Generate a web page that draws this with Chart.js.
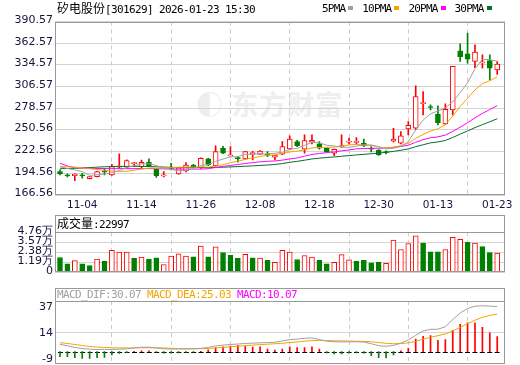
<!DOCTYPE html>
<html><head><meta charset="utf-8">
<script src="https://cdn.jsdelivr.net/npm/chart.js@4.4.1/dist/chart.umd.min.js"></script>
<style>
html,body{margin:0;padding:0;background:#fff;}
body{width:520px;height:365px;position:relative;overflow:hidden;}
canvas{position:absolute;left:0;}
.t{position:absolute;white-space:nowrap;line-height:14px;height:14px;}
.cjk{font-family:"Noto Sans CJK SC",sans-serif;font-size:12px;}
.mono{font-family:"DejaVu Sans Mono",monospace;font-size:11px;letter-spacing:-0.62px;}
.leg{font-family:"DejaVu Sans Mono",monospace;font-size:11px;letter-spacing:-0.8px;}
.sq{display:inline-block;width:5px;height:4px;margin:0 0 2px 3px;vertical-align:middle;}
.wm{position:absolute;left:196px;top:84px;font-family:"Noto Sans CJK SC",sans-serif;font-weight:700;font-size:27px;color:#eeeeee;letter-spacing:1px;}
</style></head><body>
<div class="wm">◐ 东方财富</div>
<canvas id="cMain" width="520" height="215" style="top:0"></canvas>
<canvas id="cVol" width="520" height="66" style="top:215px"></canvas>
<canvas id="cMacd" width="520" height="77" style="top:288px"></canvas>
<div class="t" style="left:57px;top:1px;color:#000"><span class="cjk">矽电股份</span><span class="mono">[301629] 2026-01-23 15:30</span></div>
<div class="t leg" id="legend" style="left:322px;top:2px;color:#000"></div>
<div class="t" style="left:57px;top:216px;color:#000"><span class="cjk">成交量</span><span class="mono">:22997</span></div>
<div class="t mono" id="macdHead" style="left:57px;top:288px"></div>
<script>
const dates = ['10-30','10-31','11-03','11-04','11-05','11-06','11-07','11-10','11-11','11-12','11-13','11-14','11-17','11-18','11-19','11-20','11-21','11-24','11-25','11-26','11-27','11-28','12-01','12-02','12-03','12-04','12-05','12-08','12-09','12-10','12-11','12-12','12-15','12-16','12-17','12-18','12-19','12-22','12-23','12-24','12-25','12-26','12-29','12-30','12-31','01-05','01-06','01-07','01-08','01-09','01-12','01-13','01-14','01-15','01-16','01-19','01-20','01-21','01-22','01-23'];
const dateTicks = ['11-04','11-14','11-26','12-08','12-18','12-30','01-13','01-23'];

const opens  = [196.7,191.8,191.5,191.9,187.6,190.2,197.6,192.4,202.5,202.4,207.0,203.1,208.8,199.8,191.3,202.1,193.7,197.6,205.3,201.85,213.1,204.4,226.9,217.0,214.4,213.1,220.0,219.2,218.7,215.5,219.2,226.0,235.5,225.6,234.7,232.5,226.9,220.5,229.0,234.8,234.6,233.4,226.3,224.7,222.1,236.0,233.4,251.9,252.8,284.6,280.3,270.9,258.3,276.4,352.7,348.8,338.9,337.2,340.2,328.1];
const highs  = [198.9,193.7,194.0,194.6,190.5,197.0,201.1,206.2,219.6,212.0,208.6,211.8,213.1,200.5,196.7,207.5,202.0,208.3,206.0,214.5,214.0,229.9,229.3,229.0,216.1,223.0,222.8,224.0,222.5,218.2,235.5,242.8,237.0,244.1,244.1,235.5,227.5,226.0,244.1,239.9,240.6,238.6,229.0,225.3,223.5,252.8,248.4,261.3,307.5,300.1,282.9,281.6,284.2,332.8,361.8,375.55,360.5,347.5,347.5,338.9];
const lows   = [192.4,189.8,185.07,188.15,187.3,189.9,192.4,191.8,201.0,201.5,203.1,200.2,203.5,189.4,189.8,198.9,193.0,196.5,202.0,201.0,204.5,203.8,220.0,216.3,208.8,212.5,211.8,218.5,216.1,211.8,218.5,225.0,229.0,220.5,232.5,225.6,222.0,217.4,228.0,232.5,232.5,229.0,222.1,217.7,219.5,235.0,232.5,244.1,251.0,270.0,276.4,257.0,257.5,270.0,338.9,336.8,331.1,330.3,315.2,322.1];
const closes = [193.7,191.25,193.7,191.25,190.2,196.7,196.3,203.1,203.7,210.9,207.6,208.8,204.0,191.5,192.0,200.8,201.5,205.3,202.8,214.0,205.3,222.5,220.5,217.4,213.6,222.5,220.6,223.4,217.9,218.0,229.0,238.9,230.3,236.8,237.3,226.9,222.5,225.6,229.9,235.6,235.2,229.9,225.6,218.3,221.4,238.6,242.8,256.4,293.6,285.1,279.5,260.0,277.3,332.76,345.3,342.0,351.0,337.7,330.3,335.5];

const ma5  = [203.1,200.8,198.9,196.7,192.0,192.6,193.6,195.5,198.0,202.1,204.3,206.8,207.0,204.6,200.8,199.4,198.0,198.2,200.5,204.9,205.8,210.0,213.0,215.9,215.9,219.3,218.9,219.5,219.6,220.5,221.8,225.4,226.8,230.6,234.5,234.0,230.8,229.8,228.4,228.1,229.8,231.2,231.2,228.9,226.1,226.8,229.3,235.5,250.6,263.3,271.5,274.9,279.1,286.9,298.9,311.4,329.6,341.7,341.3,339.3];
const ma10 = [203.0,203.0,202.5,201.5,200.5,199.5,198.5,197.5,197.0,197.1,198.5,200.2,201.3,201.3,201.5,201.9,202.4,202.6,202.5,202.8,202.6,204.0,205.6,208.2,210.4,212.5,214.5,216.3,217.8,218.2,220.5,222.2,223.2,225.1,227.5,227.9,228.1,228.3,229.5,231.3,231.9,231.0,230.5,228.7,227.1,228.3,230.3,233.4,239.7,244.7,249.1,252.1,257.3,268.7,281.1,291.4,302.3,310.4,314.1,319.1];
const ma20 = [207.5,204.0,202.0,201.3,201.0,200.8,200.7,200.6,200.6,200.6,200.6,200.7,200.7,200.5,200.3,200.1,200.0,200.0,200.0,200.0,200.5,202.1,203.4,204.7,205.9,207.2,208.4,209.4,210.1,210.5,211.6,213.1,214.4,216.7,218.9,220.2,221.3,222.3,223.6,224.7,226.2,226.6,226.8,226.9,227.3,228.1,229.2,230.8,234.6,238.0,240.5,241.6,243.9,248.7,254.1,259.9,266.3,271.9,276.9,281.9];
const ma30 = [200.5,200.8,201.0,201.5,202.0,202.5,203.0,203.3,203.5,203.5,203.5,203.5,203.3,203.0,202.6,202.3,202.1,202.0,202.0,202.0,202.0,202.2,202.5,202.8,203.2,203.7,204.2,204.7,205.3,206.0,207.2,208.8,210.0,211.5,213.1,214.1,215.0,215.7,216.6,217.4,218.3,219.1,219.8,220.7,221.6,222.9,224.3,226.0,229.0,231.4,233.9,235.1,237.0,240.8,245.2,249.2,253.6,257.4,261.1,265.0];

const volumes = [17600,10200,13900,10200,8100,15900,13200,26100,24100,24100,16600,18000,15600,17300,9200,19300,22000,19300,18300,31200,18300,30200,23400,20300,16600,21400,17300,17000,14200,11900,26100,24100,15300,20000,18000,14200,10200,11900,21000,14900,13200,14200,11200,12200,10800,38300,27100,34200,43270,34600,24400,24400,27100,41400,39300,35700,34600,30600,23400,22997];

const dif  = [4.9,4.0,2.8,2.1,1.7,1.5,1.5,1.5,1.7,1.9,2.5,3.0,3.0,2.5,1.9,1.8,1.8,1.8,1.9,2.2,2.9,3.8,4.4,4.8,5.1,5.5,5.7,5.9,6.1,6.3,7.2,8.0,8.4,8.9,9.2,8.1,7.0,6.6,6.5,6.6,6.6,6.4,5.3,4.0,3.6,4.2,5.7,7.8,11.0,13.8,14.9,15.0,16.6,21.5,25.8,28.8,30.3,30.6,30.4,30.07];
const dea  = [6.0,5.5,4.8,4.1,3.5,3.1,2.8,2.6,2.5,2.5,2.5,2.6,2.6,2.6,2.5,2.3,2.1,2.0,2.0,2.0,2.2,2.5,2.9,3.3,3.7,4.0,4.4,4.7,5.0,5.3,5.6,6.1,6.5,7.0,7.4,7.5,7.4,7.3,7.2,7.1,7.0,6.9,6.6,6.1,5.6,5.3,5.4,5.9,6.9,8.3,9.6,10.7,11.9,13.8,16.2,18.7,21.0,22.9,24.2,25.03];
const macd = [-3.3,-3.3,-4.0,-4.4,-4.4,-4.0,-3.8,-2.2,-1.1,-0.6,0.3,0.6,0.6,-0.3,-0.9,-1.0,-0.8,-0.5,-0.3,0.3,1.3,2.5,3.2,3.8,4.2,3.5,3.0,3.3,1.8,1.1,1.8,3.3,2.7,2.7,3.3,1.8,-0.8,-1.4,-1.4,-1.0,-0.8,-1.0,-2.6,-4.0,-4.1,-2.2,0.6,2.2,8.4,10.3,10.7,7.6,8.0,14.0,18.2,19.2,19.2,16.2,12.6,10.07];

const priceTicks = [166.56,194.56,222.56,250.56,278.57,306.57,334.57,362.57,390.57];
const volTicks = [0,11900,23800,35700,47600];
const macdTickLabels = ['37','14','-9'];

const maNames = ['5PMA','10PMA','20PMA','30PMA'];
const maColors = ['#a0a0a0','#f5a300','#ff00ff','#00702c'];
const maSeries = [ma5, ma10, ma20, ma30];
const macdNames = ['MACD_DIF','MACD_DEA','MACD'];
const macdColors = ['#a0a0a0','#f5a300','#ff00ff'];
const macdLast = [dif[dif.length-1], dea[dea.length-1], macd[macd.length-1]];

const RED = '#ff0000', GREEN = '#008000', FRAME = '#999999';
const dateTickIdx = dateTicks.map(d => dates.indexOf(d));
const up = closes.map((c,i) => c >= opens[i]);
const volUp = closes.map((c,i) => i === 0 ? c >= opens[i] : c >= closes[i-1]);

document.getElementById('legend').innerHTML = maNames.map((n,i) =>
  `<span style="margin-right:${i<3?9:0}px">${n}<span class="sq" style="background:${maColors[i]}"></span></span>`).join('');
document.getElementById('macdHead').innerHTML = macdNames.map((n,i) =>
  `<span style="color:${macdColors[i]};margin-right:6px">${n}:${macdLast[i].toFixed(2)}</span>`).join('');

Chart.defaults.font.family = 'DejaVu Sans';
Chart.defaults.font.size = 11;
const LABEL = '#14143c';

const framePlugin = {
  id: 'frame',
  beforeDatasetsDraw(chart, args, o) {
    const {ctx, chartArea: a} = chart;
    ctx.save(); ctx.lineWidth = 1;
    if (o.midGrid) {
      const y = Math.round((a.top + a.bottom) / 2) + 0.5;
      ctx.strokeStyle = '#d4d4d4'; ctx.beginPath(); ctx.moveTo(a.left, y); ctx.lineTo(a.right, y); ctx.stroke();
    }
    if (o.zero !== undefined) {
      const y = Math.round(chart.scales.y.getPixelForValue(o.zero)) + 0.5;
      ctx.strokeStyle = '#000'; ctx.setLineDash([5, 2.4]);
      ctx.beginPath(); ctx.moveTo(a.left + 3, y); ctx.lineTo(a.right - 4, y); ctx.stroke();
    }
    ctx.restore();
  },
  afterDraw(chart, args, o) {
    const {ctx, chartArea: a} = chart;
    ctx.save(); ctx.strokeStyle = FRAME; ctx.lineWidth = 1;
    const L = Math.round(a.left) + 0.5, R = Math.round(a.right) - 0.5;
    const T = (o.top !== undefined ? o.top : Math.round(a.top)) + 0.5, B = Math.round(a.bottom) - 0.5;
    ctx.strokeRect(L, T, R - L, B - T);
    if (o.top !== undefined) { const y = Math.round(a.top) + 0.5; ctx.beginPath(); ctx.moveTo(L, y); ctx.lineTo(R, y); ctx.stroke(); }
    if (o.labels) {
      ctx.font = '11px "DejaVu Sans"'; ctx.fillStyle = LABEL; ctx.textAlign = 'right'; ctx.textBaseline = 'middle';
      const ys = [a.top + 6.5, (a.top + a.bottom) / 2 + 0.5, a.bottom - 4.5];
      o.labels.forEach((t, k) => ctx.fillText(t, a.left - 2, ys[k]));
    }
    ctx.restore();
  }
};

function xAxis(show) {
  return {
    type: 'linear', min: -0.675, max: 60.05, offset: false,
    afterBuildTicks: s => { s.ticks = dateTickIdx.map(v => ({value: v})); },
    ticks: {display: show, autoSkip: false, maxRotation: 0, minRotation: 0, padding: 4, color: LABEL,
      font: {family: 'DejaVu Sans', size: 10.5}, callback: v => dates[v]},
    grid: {color: '#cccccc', drawTicks: false, lineWidth: 1},
    border: {display: false, dash: [4, 4]},
    afterFit: s => { s.height = show ? 20 : 0; }
  };
}
function yAxis(ticks, fmt, gridColor) {
  return {
    min: ticks[0], max: ticks[ticks.length - 1],
    afterBuildTicks: s => { s.ticks = ticks.map(v => ({value: v})); },
    ticks: {autoSkip: false, padding: 2, color: LABEL, labelOffset: -1.5, callback: fmt},
    grid: {color: gridColor, drawTicks: false, lineWidth: 1},
    border: {display: false},
    afterFit: s => { s.width = 55; }
  };
}
const common = {responsive: false, animation: false, devicePixelRatio: 1, events: [],
  plugins: {legend: {display: false}, tooltip: {enabled: false}}};
const xy = (arr) => arr.map((v, i) => ({x: i, y: v}));

// ---- price panel
new Chart(document.getElementById('cMain'), {
  type: 'bar',
  data: {datasets: [
    {label: 'wick', data: dates.map((d, i) => ({x: i, y: [lows[i], highs[i]]})), grouped: false, order: 3,
      backgroundColor: up.map(u => u ? RED : GREEN), barThickness: 1, minBarLength: 1},
    {label: 'body', data: dates.map((d, i) => ({x: i, y: [opens[i], closes[i]]})), grouped: false, order: 2,
      backgroundColor: up.map(u => u ? '#ffffff' : GREEN), borderColor: up.map(u => u ? RED : GREEN),
      borderWidth: 1, borderSkipped: false, barThickness: 5, minBarLength: 1},
    ...maSeries.map((s, k) => ({type: 'line', label: maNames[k], data: xy(s), borderColor: maColors[k],
      borderWidth: 1, pointRadius: 0, tension: 0, order: 1}))
  ]},
  options: Object.assign({}, common, {
    layout: {padding: {top: 21.5, right: 15, left: 0, bottom: 0}},
    scales: {x: xAxis(true), y: yAxis(priceTicks, v => v.toFixed(2), '#d4d4d4')},
    plugins: Object.assign({}, common.plugins, {frame: {}})
  }),
  plugins: [framePlugin]
});

// ---- volume panel
new Chart(document.getElementById('cVol'), {
  type: 'bar',
  data: {datasets: [
    {label: 'vol', data: xy(volumes), grouped: false,
      backgroundColor: volUp.map(u => u ? '#ffffff' : GREEN), borderColor: volUp.map(u => u ? RED : GREEN),
      borderWidth: 1, borderSkipped: false, barThickness: 5}
  ]},
  options: Object.assign({}, common, {
    layout: {padding: {top: 17.2, right: 15, left: 0, bottom: 2}},
    scales: {x: xAxis(false), y: yAxis(volTicks, v => v === 0 ? '0' : (v / 10000).toFixed(2) + '万', '#d4d4d4')},
    plugins: Object.assign({}, common.plugins, {frame: {top: 0}})
  }),
  plugins: [framePlugin]
});

// ---- MACD panel
new Chart(document.getElementById('cMacd'), {
  type: 'bar',
  data: {datasets: [
    {label: 'MACD', data: xy(macd), grouped: false, order: 2,
      backgroundColor: macd.map(v => v >= 0 ? RED : GREEN), barThickness: 1},
    {type: 'line', label: 'DIF', data: xy(dif), borderColor: macdColors[0], borderWidth: 1, pointRadius: 0, order: 1},
    {type: 'line', label: 'DEA', data: xy(dea), borderColor: macdColors[1], borderWidth: 1, pointRadius: 0, order: 1}
  ]},
  options: Object.assign({}, common, {
    layout: {padding: {top: 13, right: 15, left: 0, bottom: 1.5}},
    scales: {x: xAxis(false), y: {min: -7.87, max: 33.8, ticks: {display: false}, grid: {display: false},
      border: {display: false}, afterFit: s => { s.width = 55; }}},
    plugins: Object.assign({}, common.plugins, {frame: {top: 0, zero: 0, midGrid: true, labels: macdTickLabels}})
  }),
  plugins: [framePlugin]
});
</script>
</body></html>
